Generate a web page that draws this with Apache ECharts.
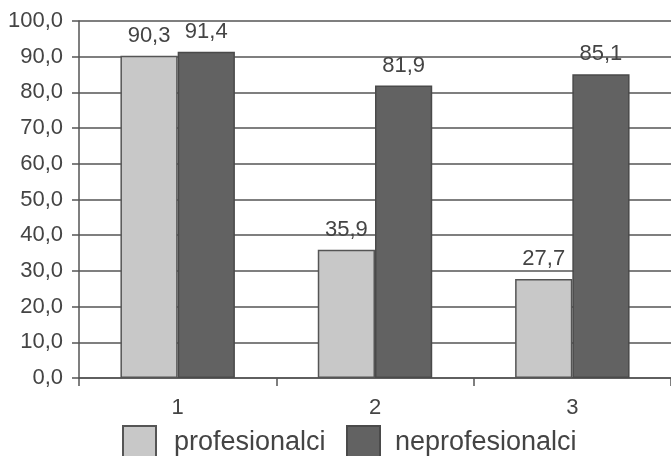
<!DOCTYPE html>
<html><head><meta charset="utf-8">
<script src="https://cdn.jsdelivr.net/npm/echarts@6/dist/echarts.min.js"></script>
<style>html,body{margin:0;padding:0;background:#fff}#c{width:671px;height:456px}</style>
</head><body><div id="c"></div>
<script>
const categories = ['1', '2', '3'];
const profesionalci = [90.3, 35.9, 27.7];
const neprofesionalci = [91.4, 81.9, 85.1];
const seriesNames = ['profesionalci', 'neprofesionalci'];

const fmt = v => Number(v).toFixed(1).replace('.', ',');
const FONT = '"Liberation Sans", Arial, sans-serif';
const TXT = '#444444';
const LINE = '#555555';

const chart = echarts.init(document.getElementById('c'), null, {renderer: 'canvas'});
chart.setOption({
  animation: false,
  backgroundColor: '#ffffff',
  textStyle: {fontFamily: FONT},
  grid: {left: 79, top: 21, bottom: 78, width: 599, containLabel: false},
  legend: [
    {data: [seriesNames[0]], left: 122, top: 425, padding: 0, itemWidth: 33, itemHeight: 33, icon: 'rect',
     textStyle: {fontSize: 27, color: TXT, fontFamily: FONT, padding: [0, 0, 0, 13]}},
    {data: [seriesNames[1]], left: 346, top: 425, padding: 0, itemWidth: 33, itemHeight: 33, icon: 'rect',
     textStyle: {fontSize: 27, color: TXT, fontFamily: FONT, padding: [0, 0, 0, 10]}}
  ],
  xAxis: {
    type: 'category', data: categories, boundaryGap: true,
    axisLine: {lineStyle: {color: LINE, width: 1.5}},
    axisTick: {show: true, length: 8, alignWithLabel: false, lineStyle: {color: LINE, width: 1.5}},
    axisLabel: {fontSize: 22, color: TXT, margin: 19, fontFamily: FONT},
    splitLine: {show: false}
  },
  yAxis: {
    type: 'value', min: 0, max: 100, interval: 10,
    axisLine: {show: true, lineStyle: {color: LINE, width: 1.5}},
    axisTick: {show: true, length: 7, lineStyle: {color: LINE, width: 1.5}},
    axisLabel: {fontSize: 22, color: TXT, margin: 16, formatter: fmt, fontFamily: FONT},
    splitLine: {show: true, lineStyle: {color: LINE, width: 1.5}}
  },
  series: [
    {name: seriesNames[0], type: 'bar', data: profesionalci, barWidth: '29%', barGap: '0%',
     itemStyle: {color: '#c8c8c8', borderColor: '#555555', borderWidth: 1.5},
     label: {show: true, position: 'top', distance: 9, fontSize: 22, color: TXT, formatter: p => fmt(p.value), fontFamily: FONT}},
    {name: seriesNames[1], type: 'bar', data: neprofesionalci, barWidth: '29%', barGap: '0%',
     itemStyle: {color: '#626262', borderColor: '#4a4a4a', borderWidth: 1.5},
     label: {show: true, position: 'top', distance: 9, fontSize: 22, color: TXT, formatter: p => fmt(p.value), fontFamily: FONT}}
  ]
});
</script></body></html>
